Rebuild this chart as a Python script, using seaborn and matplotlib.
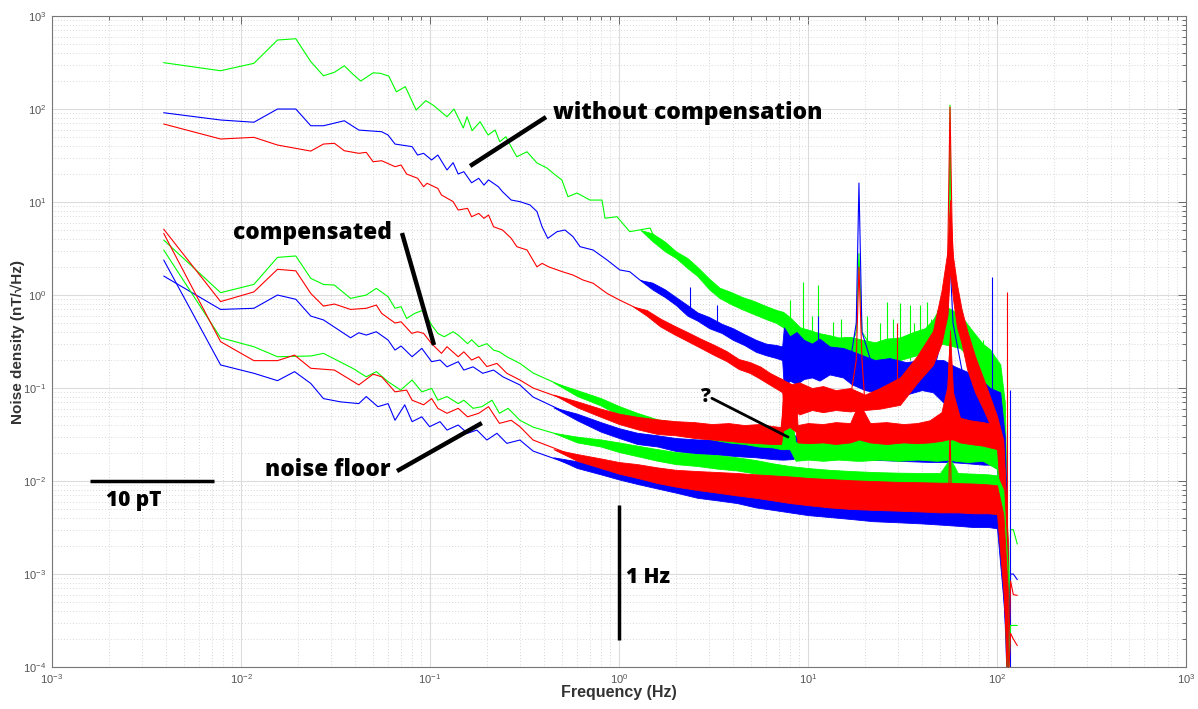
import numpy as np
import matplotlib
matplotlib.use("Agg")
import matplotlib.pyplot as plt
import seaborn as sns
from matplotlib.ticker import FixedLocator, NullFormatter, LogFormatterSciNotation

# ---------------- data ----------------
# without compensation
G_u_f = [0.0039, 0.0078, 0.0117, 0.0156, 0.0195, 0.0234, 0.0273, 0.0312, 0.0352, 0.039, 0.043, 0.050, 0.0547, 0.0605, 0.0664,
         0.074, 0.0845, 0.095, 0.104, 0.123, 0.134, 0.150, 0.157, 0.167, 0.184, 0.203, 0.221, 0.234, 0.252, 0.271,
         0.288, 0.326, 0.368, 0.416, 0.447, 0.499, 0.537, 0.599, 0.702, 0.813, 0.843, 0.976, 1.14, 1.46, 1.59,
         1.86, 2.18, 2.58, 3.03, 3.55, 4.21, 4.94, 6.06, 7.37, 8.03, 9.05, 10.2, 12.0, 14.2, 16.6,
         18.0, 18.6, 19.3, 22.6, 30.7, 41.6, 50.8, 55.5, 56.4, 57.3, 63.7, 76.5, 91.9, 104, 110, 114, 118, 122, 128]
G_u_v = [315, 258, 310, 552, 570, 323, 228, 248, 292, 238, 200, 245, 242, 226, 153,
         174, 97.5, 123, 110, 82.6, 100, 62.5, 82.6, 58.5, 73, 52.5, 59.5, 44.5, 50.4, 38.1,
         30.7, 34.7, 26.3, 23.2, 20.5, 17.2, 11.4, 12.5, 10.5, 10.5, 6.7, 6.95, 4.8, 5.25, 3.6,
         2.92, 2.38, 1.72, 1.23, 0.96, 0.82, 0.75, 0.64, 0.54, 0.456, 0.356, 0.315, 0.305, 0.278, 0.256,
         0.4, 2.8, 0.4, 0.24, 0.27, 0.33, 0.5, 1.5, 110, 1.5, 0.42, 0.24, 0.16, 0.1, 0.01, 5e-5, 0.003, 0.003, 0.0021]
G_u_bf = [1.3, 1.5, 1.75, 2.0, 2.3, 2.6, 3.0, 3.4, 3.9, 4.5, 5.2, 6.0, 6.8, 7.38, 8.0, 9.07, 10.2, 11.4, 13, 14.5,
          16.7, 19.5, 22.6, 26, 30.7, 36, 41.6, 46, 50.8, 63.7, 70, 76.5, 84, 91.9, 97, 104, 110, 114]
G_u_lo = [5.0, 3.8, 2.95, 2.5, 1.95, 1.6, 1.15, 0.93, 0.8, 0.7, 0.62, 0.55, 0.5, 0.45, 0.37, 0.3, 0.26, 0.245, 0.225, 0.22,
          0.205, 0.2, 0.185, 0.2, 0.2, 0.22, 0.235, 0.27, 0.3, 0.27, 0.22, 0.15, 0.13, 0.09, 0.075, 0.055, 0.0014, 1e-4]
G_u_hi = [5.0, 4.6, 3.75, 2.95, 2.5, 2.0, 1.5, 1.2, 1.08, 0.95, 0.86, 0.76, 0.69, 0.66, 0.58, 0.45, 0.42, 0.39, 0.37, 0.35,
          0.355, 0.33, 0.31, 0.34, 0.35, 0.4, 0.44, 0.55, 0.8, 0.62, 0.48, 0.38, 0.3, 0.26, 0.22, 0.18, 0.07, 0.0014]
G_u_spk_f = [8.03, 9.4, 10.5, 11.3, 13.6, 15.0, 20.5, 24.0, 26.1, 28.0, 30.7, 34.5, 36.5, 39.0, 42.5, 44.5, 47.9, 65.3, 73.7, 84.3]
G_u_spk_v = [0.88, 1.38, 0.6, 1.28, 0.51, 0.55, 0.6, 0.5, 0.84, 0.55, 0.82, 0.78, 0.5, 0.78, 0.84, 0.55, 0.69, 0.69, 0.4, 0.33]
G_u_spk_b = [0.35, 0.3, 0.28, 0.27, 0.25, 0.23, 0.2, 0.2, 0.2, 0.2, 0.2, 0.2, 0.22, 0.23, 0.25, 0.25, 0.3, 0.3, 0.2, 0.15]

B_u_f = [0.0039, 0.0078, 0.0117, 0.0156, 0.0195, 0.0234, 0.0273, 0.0352, 0.042, 0.0555, 0.060, 0.0653, 0.0804, 0.086, 0.0925,
         0.102, 0.110, 0.123, 0.1325, 0.141, 0.151, 0.166, 0.181, 0.193, 0.204, 0.230, 0.242, 0.269, 0.299, 0.338,
         0.368, 0.392, 0.42, 0.47, 0.518, 0.571, 0.622, 0.729, 0.865, 1.01, 1.14, 1.29, 1.51, 1.71, 2.03,
         2.38, 2.78, 3.3, 3.86, 4.53, 5.37, 6.29, 7.1, 7.5, 9.07, 12.0, 16.7, 18.0, 18.6, 19.3,
         22.6, 30.7, 45.8, 54.7, 56.4, 58.5, 69.4, 84.3, 100, 104, 110, 114, 118, 122, 128]
B_u_v = [91.2, 76.2, 72.1, 100, 100, 66.1, 66.1, 74.8, 59.4, 57, 52.5, 42, 39.4, 32, 33.4,
         28.3, 32, 22.1, 26.5, 20, 21.2, 16.1, 18, 15.2, 17.3, 14.6, 12.9, 10.5, 10.1, 9.3,
         7.9, 5.4, 4.07, 4.8, 5.0, 4.24, 3.31, 3.05, 2.38, 1.86, 1.78, 1.45, 1.23, 1.04, 0.81,
         0.635, 0.54, 0.456, 0.39, 0.33, 0.278, 0.256, 0.238, 0.2, 0.2, 0.2, 0.19, 0.5, 16, 0.4,
         0.14, 0.13, 0.14, 0.6, 2.4, 0.5, 0.08, 0.06, 0.05, 0.045, 0.005, 5e-5, 0.001, 0.001, 0.00087]
B_u_bf = [1.29, 1.5, 1.75, 2.0, 2.3, 2.6, 3.0, 3.5, 4.0, 4.6, 5.3, 6.0, 6.8, 7.3, 7.45, 8.0, 8.7, 9.5, 10.5, 11.5,
          13, 15.3, 17, 20, 22.6, 27, 33, 40, 45.8, 52, 60, 69.4, 80, 92, 104, 110, 114]
B_u_lo = [1.45, 1.15, 0.95, 0.78, 0.6, 0.53, 0.44, 0.39, 0.33, 0.29, 0.245, 0.225, 0.21, 0.2, 0.1, 0.12, 0.11, 0.125, 0.13, 0.12,
          0.14, 0.13, 0.11, 0.095, 0.09, 0.1, 0.085, 0.095, 0.09, 0.07, 0.05, 0.04, 0.035, 0.03, 0.03, 0.0014, 1e-4]
B_u_hi = [1.45, 1.36, 1.15, 0.95, 0.78, 0.65, 0.58, 0.49, 0.44, 0.38, 0.33, 0.3, 0.29, 0.28, 0.45, 0.36, 0.4, 0.33, 0.3, 0.34,
          0.28, 0.27, 0.25, 0.22, 0.2, 0.21, 0.19, 0.2, 0.2, 0.2, 0.17, 0.15, 0.13, 0.1, 0.09, 0.03, 0.0014]
B_u_spk_f = [2.38, 3.3, 11.3, 94.2, 117]
B_u_spk_v = [1.23, 0.78, 0.6, 1.56, 0.095]
B_u_spk_b = [0.6, 0.45, 0.2, 0.05, 1e-4]

R_u_f = [0.0039, 0.0078, 0.0117, 0.0156, 0.0234, 0.0273, 0.0312, 0.0352, 0.042, 0.046, 0.050, 0.0555, 0.0653, 0.0703, 0.0752,
         0.086, 0.0925, 0.0965, 0.110, 0.115, 0.1325, 0.141, 0.158, 0.166, 0.181, 0.193, 0.204, 0.217, 0.242, 0.269,
         0.288, 0.326, 0.368, 0.392, 0.424, 0.502, 0.571, 0.645, 0.729, 0.865, 1.01, 1.19, 1.41, 1.65, 1.93,
         2.29, 2.68, 3.14, 3.73, 4.37, 4.93, 6.85, 7.38, 9.07, 12.0, 16.7, 18.0, 18.6, 19.3, 20.0,
         24.9, 30.7, 37.7, 45.8, 50.8, 54.7, 56.4, 58.5, 61.4, 69.4, 84.3, 100, 104, 110, 114, 118, 122, 128]
R_u_v = [69, 47.6, 49.6, 41, 35.3, 42, 42.8, 35.6, 33.4, 34.2, 27.1, 27.8, 24, 25, 20,
         18, 14.6, 15.9, 14, 11.9, 10.1, 8.2, 8.55, 6.95, 7.55, 6.68, 7.25, 5.42, 5.0, 4.07,
         3.31, 3.05, 2.01, 2.19, 2.01, 1.78, 1.64, 1.45, 1.34, 1.04, 0.88, 0.75, 0.635, 0.5, 0.42,
         0.356, 0.30, 0.256, 0.217, 0.17, 0.168, 0.113, 0.095, 0.075, 0.075, 0.075, 0.2, 2.0, 0.2, 0.07,
         0.07, 0.09, 0.16, 0.27, 0.6, 1.8, 105, 1.4, 0.55, 0.2, 0.08, 0.035, 0.028, 0.003, 5e-5, 0.00084, 0.0006, 0.00059]
R_u_bf = [1.19, 1.4, 1.65, 1.95, 2.3, 2.7, 3.2, 3.7, 4.3, 4.93, 5.6, 6.3, 7.0, 7.3, 7.5, 8.2, 9.0, 10.5, 12, 14,
          16.7, 20, 24, 30.7, 37.7, 45.8, 50.8, 54.7, 56.4, 58.5, 61.4, 65, 69.4, 76.5, 84.3, 92, 100, 108, 113]
R_u_lo = [0.75, 0.6, 0.46, 0.38, 0.32, 0.27, 0.225, 0.195, 0.16, 0.145, 0.125, 0.108, 0.095, 0.09, 0.055, 0.06, 0.052, 0.058, 0.055, 0.058,
          0.056, 0.058, 0.06, 0.066, 0.113, 0.177, 0.30, 0.61, 1.86, 0.9, 0.45, 0.3, 0.16, 0.09, 0.06, 0.04, 0.027, 0.0038, 1e-4]
R_u_hi = [0.75, 0.69, 0.56, 0.47, 0.4, 0.34, 0.29, 0.25, 0.205, 0.19, 0.17, 0.145, 0.13, 0.125, 0.12, 0.11, 0.115, 0.1, 0.105, 0.095,
          0.1, 0.085, 0.1, 0.13, 0.22, 0.41, 1.1, 3.0, 10.5, 2.6, 1.3, 0.7, 0.42, 0.22, 0.13, 0.08, 0.05, 0.0275, 0.0038]
R_u_spk_f = [29.6, 113]
R_u_spk_v = [0.5, 1.08]
R_u_spk_b = [0.07, 1e-4]

# compensated
G_c_f = [0.0039, 0.0078, 0.0117, 0.0156, 0.0195, 0.0234, 0.0273, 0.0312, 0.038, 0.046, 0.052, 0.060, 0.0653, 0.0703, 0.0752,
         0.083, 0.0925, 0.102, 0.110, 0.119, 0.1325, 0.141, 0.158, 0.166, 0.181, 0.20, 0.217, 0.233, 0.255, 0.299,
         0.351, 0.424, 0.53, 0.645, 0.793, 0.98, 1.19, 1.43, 1.79, 2.68, 4.01, 6.07, 7.1, 8.0, 8.6,
         12.0, 18.0, 18.6, 19.3, 30.7, 50.8, 55.5, 56.4, 57.3, 84.3, 100, 104, 110, 114, 118, 122, 128]
G_c_v = [3.9, 1.06, 1.30, 2.54, 2.63, 1.51, 1.30, 1.28, 0.92, 1.0, 1.18, 0.96, 0.72, 0.75, 0.56,
         0.635, 0.69, 0.475, 0.387, 0.356, 0.403, 0.371, 0.30, 0.33, 0.278, 0.30, 0.256, 0.245, 0.217, 0.184,
         0.145, 0.122, 0.10, 0.08, 0.071, 0.058, 0.049, 0.045, 0.038, 0.0353, 0.0297, 0.0276, 0.0276, 0.045, 0.021,
         0.02, 0.021, 0.04, 0.021, 0.02, 0.021, 0.021, 0.15, 0.021, 0.02, 0.016, 0.012, 0.0015, 5e-5, 0.00028, 0.00028, 0.00028]
G_c_bf = [0.45, 0.6, 0.8, 1.0, 1.25, 1.6, 2.0, 2.5, 3.1, 3.8, 4.6, 5.5, 6.5, 7.2, 7.4, 8.0, 8.6, 10, 12, 14.5,
          18.0, 18.6, 19.3, 24, 30, 38, 48, 56.4, 60, 70, 84, 100, 108, 114]
G_c_lo = [0.115, 0.082, 0.065, 0.051, 0.043, 0.036, 0.032, 0.031, 0.028, 0.026, 0.025, 0.0235, 0.023, 0.022, 0.022, 0.022, 0.0165, 0.017, 0.0165, 0.017,
          0.0165, 0.0165, 0.0165, 0.017, 0.0165, 0.017, 0.0165, 0.017, 0.0165, 0.016, 0.0165, 0.0135, 0.0014, 1e-4]
G_c_hi = [0.115, 0.095, 0.078, 0.064, 0.054, 0.046, 0.043, 0.041, 0.039, 0.035, 0.034, 0.033, 0.032, 0.032, 0.065, 0.062, 0.026, 0.027, 0.026, 0.028,
          0.027, 0.042, 0.027, 0.026, 0.028, 0.027, 0.028, 0.05, 0.027, 0.026, 0.027, 0.022, 0.0135, 0.0014]

B_c_f = [0.0039, 0.0078, 0.0117, 0.0156, 0.0195, 0.0234, 0.0273, 0.038, 0.042, 0.046, 0.052, 0.060, 0.0653, 0.0703, 0.0804,
         0.0905, 0.102, 0.113, 0.123, 0.141, 0.151, 0.169, 0.19, 0.217, 0.243, 0.299, 0.351, 0.53, 0.793, 1.19,
         1.79, 2.68, 4.01, 6.07, 7.1, 8.0, 8.6, 12.0, 18.6, 20.0, 50.8, 56.4, 84.3, 94.2, 100, 104, 110, 114]
B_c_v = [1.60, 0.70, 0.72, 1.0, 0.90, 0.594, 0.54, 0.347, 0.393, 0.371, 0.403, 0.328, 0.256, 0.283, 0.217,
         0.267, 0.192, 0.20, 0.169, 0.192, 0.156, 0.169, 0.144, 0.156, 0.132, 0.108, 0.08, 0.054, 0.038, 0.0297,
         0.0256, 0.0232, 0.0232, 0.0215, 0.021, 0.027, 0.021, 0.021, 0.03, 0.021, 0.018, 0.025, 0.018, 0.022, 0.017, 0.013, 0.0012, 5e-5]
B_c_bf = [0.45, 0.6, 0.8, 1.0, 1.25, 1.6, 2.0, 2.6, 3.3, 4.2, 5.3, 6.5, 7.2, 7.5, 8.2, 9.07, 12, 16, 18.6, 21.3,
          30, 45, 56.4, 70, 85, 94.2, 100, 108, 114]
B_c_lo = [0.062, 0.045, 0.034, 0.029, 0.025, 0.0235, 0.021, 0.0195, 0.0192, 0.0185, 0.018, 0.0172, 0.017, 0.017, 0.0172, 0.018, 0.0175, 0.018, 0.018, 0.017,
          0.0165, 0.016, 0.016, 0.0155, 0.015, 0.015, 0.0135, 0.0014, 1e-4]
B_c_hi = [0.062, 0.053, 0.043, 0.037, 0.033, 0.031, 0.029, 0.028, 0.028, 0.027, 0.027, 0.026, 0.026, 0.035, 0.033, 0.028, 0.027, 0.026, 0.038, 0.026,
          0.024, 0.022, 0.023, 0.021, 0.022, 0.027, 0.021, 0.0135, 0.0014]

R_c_f = [0.0039, 0.0078, 0.0117, 0.0156, 0.0195, 0.0234, 0.0273, 0.0312, 0.038, 0.046, 0.052, 0.0555, 0.0653, 0.0703, 0.080,
         0.086, 0.0925, 0.102, 0.115, 0.123, 0.141, 0.151, 0.166, 0.181, 0.20, 0.226, 0.255, 0.299, 0.351, 0.53,
         0.793, 1.19, 1.79, 2.68, 4.01, 6.07, 7.1, 7.5, 8.4, 8.8, 12.0, 16.7, 18.6, 20.0, 37.7,
         50.8, 54.7, 56.4, 58.5, 63.7, 84.3, 100, 104, 110, 114, 118, 122, 128]
R_c_v = [5.1, 0.85, 1.08, 1.89, 1.82, 1.04, 0.76, 0.80, 0.70, 0.72, 0.78, 0.635, 0.50, 0.516, 0.387,
         0.403, 0.387, 0.30, 0.236, 0.278, 0.217, 0.245, 0.20, 0.217, 0.17, 0.184, 0.144, 0.122, 0.10, 0.074,
         0.054, 0.042, 0.038, 0.0353, 0.033, 0.0297, 0.0297, 0.07, 0.065, 0.033, 0.033, 0.033, 0.06, 0.033, 0.033,
         0.045, 0.08, 0.3, 0.07, 0.04, 0.032, 0.03, 0.02, 0.002, 5e-5, 0.00023, 0.0002, 0.00017]
R_c_bf = [0.45, 0.6, 0.8, 1.0, 1.25, 1.6, 2.0, 2.5, 3.1, 3.8, 4.6, 5.5, 6.5, 7.2, 7.4, 8.0, 8.6, 8.8, 10, 12,
          14, 16.7, 18.6, 21.3, 26, 32, 37.7, 44, 50.8, 54.7, 56.4, 58.5, 63.7, 72, 84, 100, 108, 114]
R_c_lo = [0.085, 0.062, 0.049, 0.041, 0.036, 0.032, 0.031, 0.029, 0.028, 0.027, 0.026, 0.0255, 0.025, 0.025, 0.035, 0.038, 0.034, 0.026, 0.0255, 0.026,
          0.025, 0.026, 0.028, 0.026, 0.025, 0.026, 0.0255, 0.026, 0.027, 0.028, 0.028, 0.028, 0.026, 0.025, 0.024, 0.022, 0.0023, 1e-4]
R_c_hi = [0.085, 0.072, 0.06, 0.053, 0.049, 0.046, 0.044, 0.043, 0.041, 0.042, 0.04, 0.041, 0.039, 0.038, 0.105, 0.11, 0.1, 0.04, 0.042, 0.041,
          0.043, 0.042, 0.07, 0.042, 0.043, 0.041, 0.042, 0.045, 0.055, 0.105, 0.42, 0.09, 0.048, 0.045, 0.043, 0.04, 0.022, 0.0023]

# noise floor
G_n_f = [0.0039, 0.0078, 0.0117, 0.0156, 0.0234, 0.0273, 0.039, 0.046, 0.052, 0.060, 0.070, 0.0804, 0.0905, 0.102, 0.110,
         0.123, 0.141, 0.151, 0.169, 0.188, 0.213, 0.233, 0.259, 0.299, 0.351, 0.53, 0.793, 1.19, 1.79, 2.68,
         4.01, 6.07, 9.07, 18.6, 30.7, 55.5, 56.4, 57.3, 84.3, 100, 104, 110, 114]
G_n_v = [3.05, 0.347, 0.278, 0.217, 0.221, 0.236, 0.163, 0.132, 0.15, 0.117, 0.095, 0.122, 0.091, 0.099, 0.074,
         0.081, 0.068, 0.074, 0.0605, 0.063, 0.074, 0.0535, 0.0605, 0.045, 0.038, 0.0297, 0.0256, 0.0215, 0.018, 0.0168,
         0.0156, 0.0131, 0.0122, 0.0108, 0.0105, 0.0104, 0.018, 0.0104, 0.0102, 0.0098, 0.008, 0.0009, 5e-5]
G_n_bf = [0.45, 0.6, 0.8, 1.0, 1.25, 1.6, 2.0, 2.6, 3.3, 4.2, 5.3, 6.5, 8, 10, 13, 17, 22, 30, 40, 50,
          56.4, 62, 75, 90, 100, 108, 114]
G_n_lo = [0.033, 0.026, 0.0235, 0.0205, 0.0185, 0.0165, 0.0152, 0.0145, 0.0136, 0.013, 0.012, 0.0112, 0.0105, 0.01, 0.0098, 0.0093, 0.0092, 0.009, 0.0088, 0.0087,
          0.0086, 0.0086, 0.0085, 0.0083, 0.008, 0.0011, 1e-4]
G_n_hi = [0.033, 0.03, 0.028, 0.026, 0.024, 0.022, 0.0205, 0.0195, 0.019, 0.018, 0.0168, 0.0155, 0.0145, 0.0138, 0.0132, 0.0128, 0.0125, 0.0123, 0.0122, 0.0122,
          0.0175, 0.0122, 0.012, 0.0118, 0.0115, 0.008, 0.0011]

B_n_f = [0.0039, 0.0078, 0.0117, 0.0156, 0.0192, 0.0234, 0.0273, 0.0336, 0.042, 0.046, 0.053, 0.060, 0.0653, 0.0735, 0.0804,
         0.0905, 0.0995, 0.113, 0.123, 0.141, 0.158, 0.177, 0.20, 0.226, 0.255, 0.299, 0.351, 0.53, 0.793, 1.19,
         1.79, 2.68, 4.01, 6.07, 9.07, 18.6, 30.7, 56.4, 84.3, 100, 104, 110, 114]
B_n_v = [2.38, 0.177, 0.144, 0.12, 0.15, 0.112, 0.077, 0.071, 0.068, 0.081, 0.063, 0.068, 0.045, 0.066, 0.0435,
         0.049, 0.0384, 0.0435, 0.0353, 0.040, 0.0326, 0.0353, 0.0276, 0.0326, 0.0254, 0.0276, 0.021, 0.0156, 0.0131, 0.011,
         0.0095, 0.008, 0.0074, 0.00625, 0.0058, 0.005, 0.0045, 0.0043, 0.0041, 0.004, 0.003, 0.0004, 5e-5]
B_n_bf = [0.45, 0.6, 0.8, 1.0, 1.25, 1.6, 2.0, 2.6, 3.3, 4.2, 5.3, 6.5, 8, 10, 13, 17, 22, 30, 40, 50,
          62, 75, 90, 100, 108, 114]
B_n_lo = [0.018, 0.0138, 0.0118, 0.0104, 0.0093, 0.0083, 0.0075, 0.0066, 0.0062, 0.0058, 0.0052, 0.0049, 0.0046, 0.0043, 0.0041, 0.0039, 0.0037, 0.0036, 0.0035, 0.0034,
          0.0033, 0.0032, 0.0032, 0.0031, 5.3e-4, 1e-4]
B_n_hi = [0.018, 0.0163, 0.0145, 0.0134, 0.0126, 0.0116, 0.0108, 0.0099, 0.0095, 0.009, 0.0084, 0.008, 0.0075, 0.007, 0.0066, 0.0062, 0.0059, 0.0056, 0.0054, 0.0053,
          0.0052, 0.0051, 0.005, 0.0049, 0.0031, 5.3e-4]

R_n_f = [0.0039, 0.0078, 0.0117, 0.0156, 0.0192, 0.0234, 0.0312, 0.042, 0.050, 0.0555, 0.0653, 0.0752, 0.0804, 0.0925, 0.102,
         0.110, 0.123, 0.141, 0.158, 0.181, 0.204, 0.233, 0.269, 0.299, 0.351, 0.53, 0.793, 1.19, 1.79, 2.68,
         4.01, 6.07, 9.07, 18.6, 30.7, 55.5, 56.4, 57.3, 84.3, 100, 104, 110, 114]
R_n_v = [4.6, 0.315, 0.197, 0.197, 0.226, 0.163, 0.156, 0.108, 0.141, 0.132, 0.091, 0.095, 0.074, 0.066, 0.077,
         0.0605, 0.0535, 0.0605, 0.049, 0.0535, 0.063, 0.0417, 0.045, 0.0384, 0.0276, 0.020, 0.0156, 0.0131, 0.011, 0.0103,
         0.0095, 0.0086, 0.0082, 0.0074, 0.007, 0.0067, 0.04, 0.0067, 0.0066, 0.0064, 0.005, 0.0006, 5e-5]
R_n_bf = [0.45, 0.6, 0.8, 1.0, 1.25, 1.6, 2.0, 2.6, 3.3, 4.2, 5.3, 6.5, 8, 10, 13, 17, 22, 30, 40, 50,
          56.4, 62, 75, 90, 100, 108, 114]
R_n_lo = [0.022, 0.0165, 0.0138, 0.012, 0.0108, 0.0095, 0.0087, 0.008, 0.0075, 0.007, 0.0066, 0.0062, 0.0058, 0.0055, 0.0052, 0.005, 0.0049, 0.0048, 0.0047, 0.0046,
          0.0046, 0.0046, 0.0045, 0.0045, 0.0044, 6.7e-4, 1e-4]
R_n_hi = [0.022, 0.0195, 0.0175, 0.016, 0.0152, 0.014, 0.0132, 0.0128, 0.0125, 0.0122, 0.0118, 0.0115, 0.0112, 0.0108, 0.0105, 0.0102, 0.01, 0.0098, 0.0097, 0.0096,
          0.0096, 0.0095, 0.0094, 0.0092, 0.009, 0.0044, 6.7e-4]

# axis decades (tick labels)
X_DECADES = [1e-3, 1e-2, 1e-1, 1e0, 1e1, 1e2, 1e3]
Y_DECADES = [1e-4, 1e-3, 1e-2, 1e-1, 1e0, 1e1, 1e2, 1e3]

GREEN, BLUE, RED = "#00ff00", "#0000ff", "#ff0000"

# ---------------- figure ----------------
sns.set_theme(style="white")
plt.rcParams["font.family"] = ["Liberation Sans", "DejaVu Sans"]

fig = plt.figure(figsize=(11.98, 7.09), dpi=100)
ax = fig.add_axes([0.0434, 0.0592, 0.9466, 0.9182])
ax.set_xscale("log")
ax.set_yscale("log")
ax.set_xlim(1e-3, 1e3)
ax.set_ylim(1e-4, 1e3)
ax.set_axisbelow(True)

curves = [
    (G_u_f, G_u_v, G_u_bf, G_u_lo, G_u_hi, GREEN, (G_u_spk_f, G_u_spk_b, G_u_spk_v)),
    (B_u_f, B_u_v, B_u_bf, B_u_lo, B_u_hi, BLUE, (B_u_spk_f, B_u_spk_b, B_u_spk_v)),
    (R_u_f, R_u_v, R_u_bf, R_u_lo, R_u_hi, RED, (R_u_spk_f, R_u_spk_b, R_u_spk_v)),
    (B_c_f, B_c_v, B_c_bf, B_c_lo, B_c_hi, BLUE, None),
    (G_c_f, G_c_v, G_c_bf, G_c_lo, G_c_hi, GREEN, None),
    (R_c_f, R_c_v, R_c_bf, R_c_lo, R_c_hi, RED, None),
    (B_n_f, B_n_v, B_n_bf, B_n_lo, B_n_hi, BLUE, None),
    (G_n_f, G_n_v, G_n_bf, G_n_lo, G_n_hi, GREEN, None),
    (R_n_f, R_n_v, R_n_bf, R_n_lo, R_n_hi, RED, None),
]
for i, (f, v, bf, lo, hi, c, spk) in enumerate(curves):
    z = 2 + 0.1 * i
    ax.fill_between(bf, lo, hi, color=c, linewidth=0.6, zorder=z)
    sns.lineplot(x=f, y=v, ax=ax, color=c, linewidth=0.8, estimator=None,
                 sort=False, legend=False, zorder=z + 0.05)
    if spk is not None:
        ax.vlines(spk[0], spk[1], spk[2], colors=c, linewidth=0.8, zorder=z + 0.05)

# grid & ticks (MATLAB-like) -- only ticks inside the visible range
x_minor = [m * d for d in X_DECADES[:-1] for m in range(2, 10)]
y_minor = [m * d for d in Y_DECADES[:-1] for m in range(2, 10)]
ax.xaxis.set_major_locator(FixedLocator(X_DECADES))
ax.yaxis.set_major_locator(FixedLocator(Y_DECADES))
ax.xaxis.set_minor_locator(FixedLocator(x_minor))
ax.yaxis.set_minor_locator(FixedLocator(y_minor))
ax.xaxis.set_minor_formatter(NullFormatter())
ax.yaxis.set_minor_formatter(NullFormatter())
ax.xaxis.set_major_formatter(LogFormatterSciNotation())
ax.yaxis.set_major_formatter(LogFormatterSciNotation())
ax.grid(True, which="major", color="#dcdcdc", linewidth=0.8, linestyle="-")
ax.grid(True, which="minor", color="#cccccc", linewidth=0.6, linestyle=(0, (1, 2.5)))
ax.tick_params(which="both", direction="in", top=True, right=True,
               colors="#555555", labelsize=8, width=0.6)
ax.tick_params(which="major", length=6, pad=4)
ax.tick_params(which="minor", length=3)
for s in ax.spines.values():
    s.set_color("#777777")
    s.set_linewidth(0.8)

ax.set_xlabel("Frequency (Hz)", fontsize=11.5, fontweight="bold", color="#333333")
ax.set_ylabel("Noise density (nT/\u221aHz)", fontsize=11, fontweight="bold", color="#333333")
ax.xaxis.set_label_coords(0.5, -0.027)
ax.yaxis.set_label_coords(-0.024, 0.5)

# annotations
afont = dict(family=["Open Sans", "DejaVu Sans"], fontweight="heavy", color="black")
ax.plot([0.163, 0.411], [24.4, 82], color="black", lw=3.2, zorder=5, solid_capstyle="butt")
ax.text(0.448, 90.6, "without compensation", fontsize=16.5, ha="left", va="center", zorder=6, **afont)
ax.plot([0.0711, 0.105], [4.64, 0.29], color="black", lw=3.2, zorder=5, solid_capstyle="butt")
ax.text(0.00908, 4.64, "compensated", fontsize=16.3, ha="left", va="center", zorder=6, **afont)
ax.plot([0.0669, 0.188], [0.0128, 0.042], color="black", lw=3.2, zorder=5, solid_capstyle="butt")
ax.text(0.0134, 0.0131, "noise floor", fontsize=16.3, ha="left", va="center", zorder=6, **afont)
ax.plot([3.1, 7.84], [0.0776, 0.0297], color="black", lw=2.0, zorder=5)
ax.text(2.85, 0.08, "?", fontsize=14, ha="center", va="center", zorder=6, **afont)
ax.plot([0.00159, 0.0072], [0.01, 0.01], color="black", lw=2.5, zorder=5, solid_capstyle="butt")
ax.text(0.00193, 0.00625, "10 pT", fontsize=15, ha="left", va="center", zorder=6, **afont)
ax.plot([1.0, 1.0], [0.0055, 1.95e-4], color="black", lw=2.5, zorder=5, solid_capstyle="butt")
ax.text(1.09, 9.1e-4, "1 Hz", fontsize=15, ha="left", va="center", zorder=6, **afont)

fig.savefig("out.png", dpi=100)
